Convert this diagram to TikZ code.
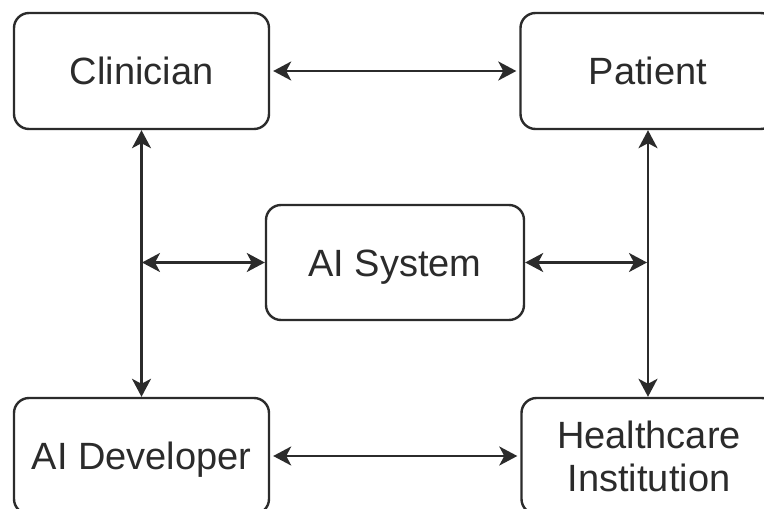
\documentclass[tikz,border=0pt]{standalone}
\usepackage{fontspec}
\setmainfont{Liberation Sans}
\usetikzlibrary{arrows.meta}
\definecolor{ink}{HTML}{2B2B2B}
\begin{document}
\begin{tikzpicture}[x=1pt,y=-1pt,
  box/.style={draw=ink, line width=2.4pt, rounded corners=15pt, minimum width=255pt,
    minimum height=116pt, inner sep=0pt, align=center,
    font=\fontsize{38}{43}\selectfont, text=ink},
  oneline/.style={text height=27pt, text depth=0pt},
  link/.style={draw=ink, line width=2.5pt, {Stealth[length=18pt,width=19pt,inset=5pt]}-{Stealth[length=18pt,width=19pt,inset=5pt]}}]
\useasboundingbox (0,0) rectangle (764,509);
\node[box, oneline] (clin) at (141.5,71) {Clinician};
\node[box, oneline] (pat) at (648,71) {Patient};
\node[box, oneline, minimum width=258pt, minimum height=115pt] (ai) at (395,262.5) {AI System};
\node[box, oneline] (dev) at (141.5,456) {AI Developer};
\node[box] (hc) at (649,456) {Healthcare\\Institution};
\coordinate (lj) at (142,262.5);
\coordinate (rj) at (647,262.5);
\draw[link, shorten <=3pt, shorten >=3pt] (clin.east) -- (pat.west);
\draw[link, shorten <=3pt, shorten >=3pt] (dev.east) -- (hc.west);
\draw[link] (clin.south) -- (dev.north);
\draw[link] (pat.south) -- (pat.south |- hc.north);
\draw[link] (lj) -- (ai.west);
\draw[link] (ai.east) -- (rj);
\end{tikzpicture}
\end{document}
